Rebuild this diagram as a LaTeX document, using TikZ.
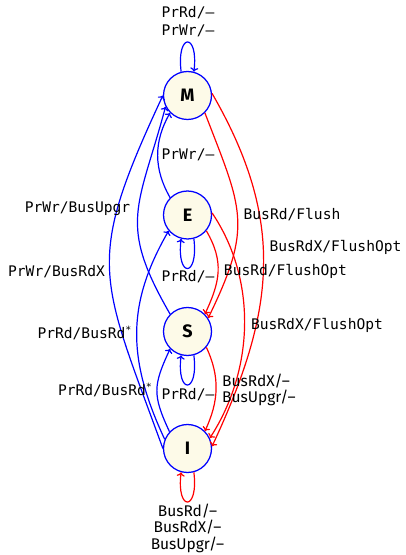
\documentclass[tikz,border=0pt]{standalone}
\usepackage{fontspec}
\setmainfont{Fira Sans}
\newfontfamily\monof{DejaVu Sans Mono}
\newfontfamily\propf{Fira Sans}
\usetikzlibrary{arrows.meta}
\definecolor{nodefill}{RGB}{253,250,232}
\newcommand{\stsup}{\raisebox{0.55ex}{\fontsize{10}{10}\selectfont *}}
\begin{document}
\begin{tikzpicture}[x=1pt,y=1pt,
  state/.style={circle, draw=blue, fill=nodefill, line width=1.25pt, minimum size=48pt, inner sep=0pt,
    font=\propf\bfseries\fontsize{18}{20}\selectfont},
  tr/.style={line width=1.2pt, -{To[length=4pt,width=8pt]}},
  bl/.style={tr, blue},
  rd/.style={tr, red},
  lbl/.style={font=\monof\fontsize{14.6}{18}\selectfont, inner sep=0pt, align=center},
  plbl/.style={font=\propf\fontsize{15.5}{16.5}\selectfont, inner sep=0pt}]
\useasboundingbox (0,0) rectangle (406,555);

\node[state] (M) at (187.5,459.5) {M};
\node[state] (E) at (187.5,340) {E};
\node[state] (S) at (187.5,223.5) {S};
\node[state] (I) at (187.5,106.5) {I};

% self loops
\draw[bl] (M.105) to[out=97,in=83,looseness=8] (M.75);
\draw[bl] (E.285) to[out=-83,in=-97,looseness=8] (E.255);
\draw[bl] (S.285) to[out=-83,in=-97,looseness=8] (S.255);
\draw[rd] (I.285) to[out=-83,in=-97,looseness=8] (I.255);

% blue transitions (left)
\draw[bl] (E.135) to[out=120,in=240] (M.225);
\draw[bl] (S.135) to[out=120,in=255,looseness=1.3] (M.207);
\draw[bl] (I.180) to[out=110,in=245,looseness=1.35] (M.180);
\draw[bl] (I.158) to[out=115,in=240,looseness=1.06] (E.220);
\draw[bl] (I.137) to[out=115,in=245,looseness=1.25] (S.225);

% red transitions (right)
\draw[rd] (M.315) to[out=-69,in=64,looseness=1.29] (S.33);
\draw[rd] (M.5) to[out=-60,in=65,looseness=1.08] (I.5);
\draw[rd] (E.320) to[out=-60,in=65,looseness=1.1] (S.45);
\draw[rd] (E.5) to[out=-56,in=57,looseness=0.92] (I.25);
\draw[rd] (S.320) to[out=-65,in=65] (I.45);

% labels
\node[lbl] (lMM) at (188,533) {PrRd/–\\PrWr/–};
\node[lbl] (lEM) at (188,400) {PrWr/–};
\node[lbl] (lEE) at (188,278) {PrRd/–};
\node[lbl] (lSS) at (188,160) {PrRd/–};
\node[plbl, align=center] (lII) at (187.5,27) {BusRd/–\\BusRdX/–\\BusUpgr/–};
\node[lbl] (lSM) at (77.5,346) {PrWr/BusUpgr};
\node[lbl] (lIM) at (56.5,283) {PrWr/BusRdX};
\node[lbl] (lIE) at (84.5,222) {PrRd/BusRd\stsup};
\node[lbl] (lIS) at (105,165) {PrRd/BusRd\stsup};
\node[lbl] (lMS) at (292,340) {BusRd/Flush};
\node[lbl] (lMI) at (335.5,308) {BusRdX/FlushOpt};
\node[lbl] (lES) at (285.5,284) {BusRd/FlushOpt};
\node[lbl] (lEI) at (317,230) {BusRdX/FlushOpt};
\node[plbl, anchor=west, align=left] (lSI) at (222,165) {BusRdX/–\\BusUpgr/–};
\end{tikzpicture}
\end{document}
